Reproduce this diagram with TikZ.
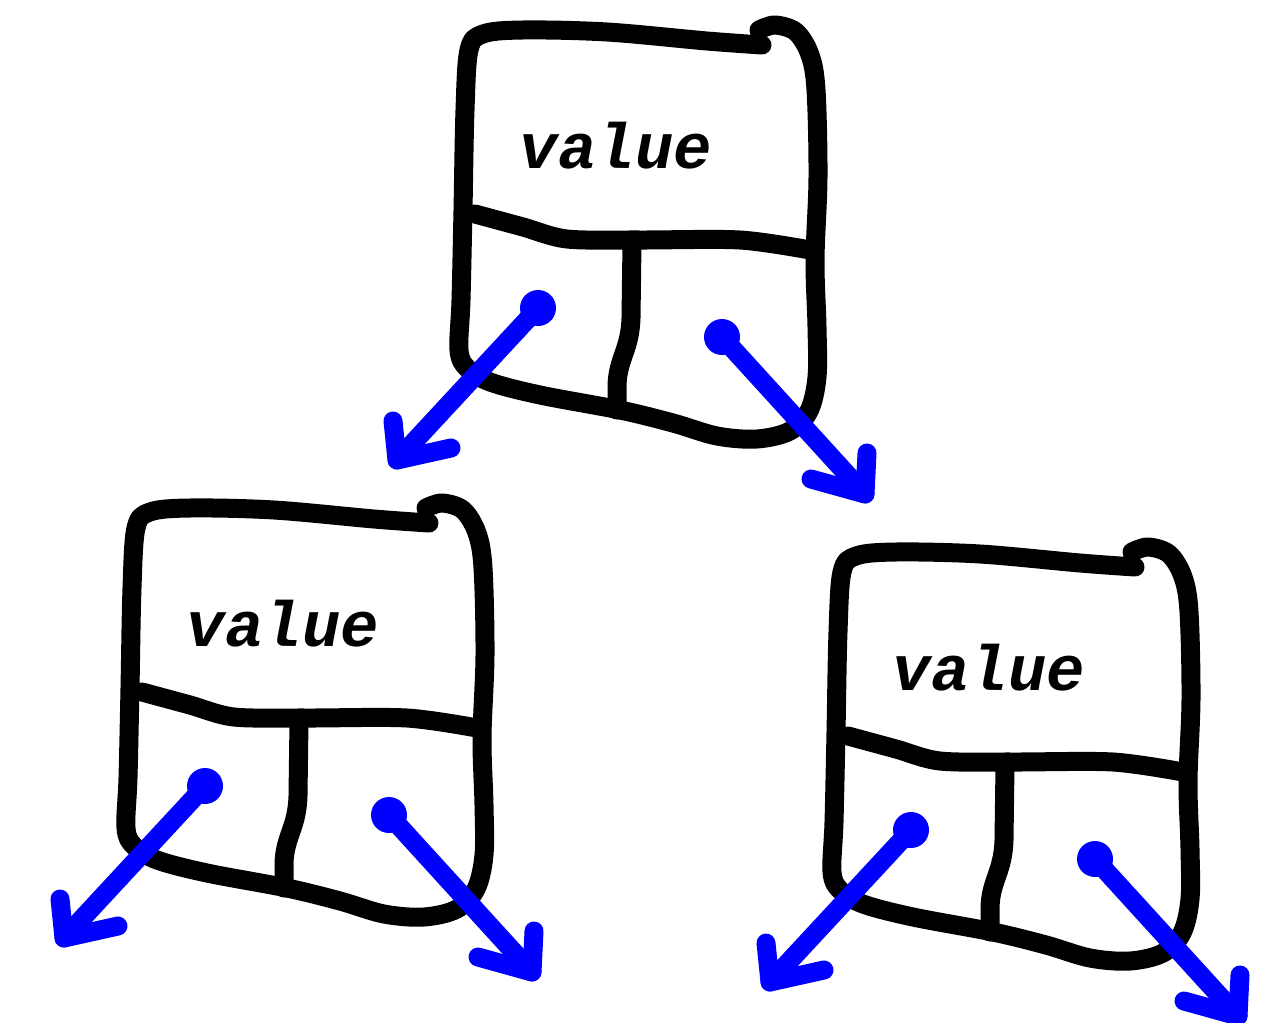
\documentclass[tikz,border=0pt]{standalone}
\usepackage{fontspec}
\newfontfamily\codefont{Liberation Mono}
\begin{document}
\begin{tikzpicture}[x=1pt, y=-1pt,
  ink/.style={line width=19pt, line cap=round, line join=round, black},
  pointer/.style={line width=19pt, line cap=round, line join=round, blue},
  valuelabel/.style={font=\codefont\bfseries\itshape\fontsize{64}{64}\selectfont, anchor=base, inner sep=0pt},
  pics/treenode/.style={code={
    % hand-drawn outline, ending in the curl at the top right
    \draw[ink] plot[smooth, tension=0.55] coordinates {
      (762,45) (707,41) (607,32) (523,30) (483,34) (469,50) (465,110)
      (463,210) (461,300) (459,350) (467,368) (490,382) (540,395)
      (620,410) (673,423) (717,436) (757,439) (790,431) (809,411)
      (817,377) (817,327) (815,260) (818,177) (816,90) (810,55)
      (796,32) (775,25) (759,30)};
    % split between the value field and the two child fields
    \draw[ink] plot[smooth, tension=0.5] coordinates {
      (475,214) (523,227) (567,239) (640,240) (740,240) (810,250)};
    \draw[ink] (632,243) -- (631,318)
      .. controls (630,350) and (618,358) .. (617,385) -- (617,410);
    \node[valuelabel] (-val) at (616,168) {value};
    % child pointers
    \coordinate (-ldot) at (538,308);
    \coordinate (-ltip) at (397,460);
    \coordinate (-rdot) at (722,337);
    \coordinate (-rtip) at (865,494);
    \fill[blue] (-ldot) circle (18pt);
    \fill[blue] (-rdot) circle (18pt);
    \draw[pointer] (-ldot) -- (-ltip);
    \draw[pointer] (393,421) -- (-ltip) -- (451,448);
    \draw[pointer] (-rdot) -- (-rtip);
    \draw[pointer] (867,453) -- (-rtip) -- (811,479);
  }}]
\useasboundingbox[fill=white] (0,0) rectangle (1281,1022);
\pic (top)   at (0,0)      {treenode};
\pic (left)  at (-333,478) {treenode};
\pic (right) at (373,522)  {treenode};
\end{tikzpicture}
\end{document}
